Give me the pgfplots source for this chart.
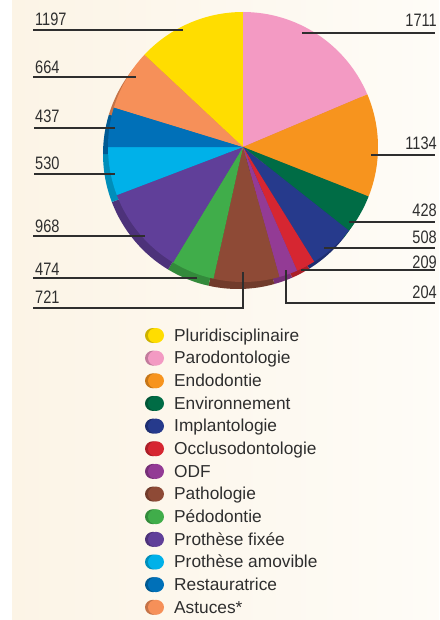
\documentclass[border=0pt]{standalone}
\usepackage{fontspec}
\setmainfont{Liberation Sans}
\newfontfamily\condfont{Liberation Sans}[FakeStretch=0.81]
\usepackage{pgfplots}
\usepackage{pgfplotstable}
\pgfplotsset{compat=1.18}

\definecolor{c0}{HTML}{FFDD00}
\definecolor{c1}{HTML}{F39AC3}
\definecolor{c2}{HTML}{F7941E}
\definecolor{c3}{HTML}{006C45}
\definecolor{c4}{HTML}{263A8C}
\definecolor{c5}{HTML}{D62631}
\definecolor{c6}{HTML}{933B95}
\definecolor{c7}{HTML}{8E4A36}
\definecolor{c8}{HTML}{40AD4A}
\definecolor{c9}{HTML}{603F99}
\definecolor{c10}{HTML}{00B1E9}
\definecolor{c11}{HTML}{0070B8}
\definecolor{c12}{HTML}{F69059}
\definecolor{txt}{HTML}{2E2E2E}
\definecolor{bgl}{RGB}{252,244,230}
\definecolor{bgr}{RGB}{254,252,247}

\pgfplotstableread[col sep=comma]{
name,value
Pluridisciplinaire,1197
Parodontologie,1711
Endodontie,1134
Environnement,428
Implantologie,508
Occlusodontologie,209
ODF,204
Pathologie,721
Pédodontie,474
Prothèse fixée,968
Prothèse amovible,530
Restauratrice,437
Astuces*,664
}\piedata

\begin{document}
% compute angles
\pgfmathsetmacro\tot{0}%
\pgfplotsforeachungrouped \i in {0,...,12}{%
  \pgfplotstablegetelem{\i}{value}\of\piedata
  \pgfmathsetmacro\tot{\tot+\pgfplotsretval}%
}%
\pgfplotstablegetelem{0}{value}\of\piedata
\pgfmathsetmacro\cur{90+360*(\pgfplotsretval/\tot)}%
\pgfplotsforeachungrouped \i in {0,...,12}{%
  \pgfplotstablegetelem{\i}{value}\of\piedata
  \expandafter\xdef\csname vl\i\endcsname{\pgfplotsretval}%
  \pgfmathsetmacro\nxt{\cur-360*(\pgfplotsretval/\tot)}%
  \expandafter\xdef\csname sa\i\endcsname{\cur}%
  \expandafter\xdef\csname sb\i\endcsname{\nxt}%
  \global\let\cur\nxt
  \pgfplotstablegetelem{\i}{name}\of\piedata
  \expandafter\xdef\csname nm\i\endcsname{\pgfplotsretval}%
}%
\begin{tikzpicture}
\begin{axis}[
  scale only axis, width=439pt, height=620pt,
  xmin=0, xmax=439, ymin=0, ymax=620, y dir=reverse,
  hide axis, clip=false]
  % background
  \fill[white] (axis cs:0,0) rectangle (axis cs:12,620);
  \shade[left color=bgl, right color=bgr] (axis cs:12,0) rectangle (axis cs:439,620);
  % pie shadow (3D rim)
  \pgfplotsinvokeforeach{0,...,12}{%
    \edef\temp{\noexpand\fill[c#1!80!black] (axis cs:238,154) -- +(\csname sa#1\endcsname:135pt) arc[start angle=\csname sa#1\endcsname, end angle=\csname sb#1\endcsname, radius=135pt] -- cycle;}%
    \temp
  }
  % pie
  \pgfplotsinvokeforeach{0,...,12}{%
    \edef\temp{\noexpand\fill[c#1] (axis cs:243,147) -- +(\csname sa#1\endcsname:135pt) arc[start angle=\csname sa#1\endcsname, end angle=\csname sb#1\endcsname, radius=135pt] -- cycle;}%
    \temp
  }
  % leader lines
  \begin{scope}[draw=txt, line width=1.1pt]
  \draw (axis cs:33,30) -- (axis cs:183,30);
  \draw (axis cs:33,77) -- (axis cs:136,77);
  \draw (axis cs:34,128) -- (axis cs:115,128);
  \draw (axis cs:34,174) -- (axis cs:115,174);
  \draw (axis cs:33,236) -- (axis cs:145,236);
  \draw (axis cs:33,278) -- (axis cs:197,278);
  \draw (axis cs:33,308) -- (axis cs:243,308) -- (axis cs:243,272);
  \draw (axis cs:302,33) -- (axis cs:435,33);
  \draw (axis cs:371,155) -- (axis cs:435,155);
  \draw (axis cs:349,222) -- (axis cs:435,222);
  \draw (axis cs:324,248) -- (axis cs:435,248);
  \draw (axis cs:301,270) -- (axis cs:435,270);
  \draw (axis cs:286,270) -- (axis cs:286,303) -- (axis cs:435,303);
  \end{scope}
  % value labels
  \begin{scope}[every node/.style={inner sep=0pt, text=txt, font=\condfont\fontsize{18}{20}\selectfont}]
  \node[anchor=base west] at (axis cs:35,26) {\csname vl0\endcsname};
  \node[anchor=base west] at (axis cs:35,74) {\csname vl12\endcsname};
  \node[anchor=base west] at (axis cs:35,123) {\csname vl11\endcsname};
  \node[anchor=base west] at (axis cs:35,170) {\csname vl10\endcsname};
  \node[anchor=base west] at (axis cs:35,232) {\csname vl9\endcsname};
  \node[anchor=base west] at (axis cs:35,275) {\csname vl8\endcsname};
  \node[anchor=base west] at (axis cs:35,303) {\csname vl7\endcsname};
  \node[anchor=base east] at (axis cs:437,27) {\csname vl1\endcsname};
  \node[anchor=base east] at (axis cs:437,150) {\csname vl2\endcsname};
  \node[anchor=base east] at (axis cs:437,217) {\csname vl3\endcsname};
  \node[anchor=base east] at (axis cs:437,243) {\csname vl4\endcsname};
  \node[anchor=base east] at (axis cs:437,268) {\csname vl5\endcsname};
  \node[anchor=base east] at (axis cs:437,298) {\csname vl6\endcsname};
  \end{scope}
  % legend
  \pgfplotsinvokeforeach{0,...,12}{%
    \pgfmathsetmacro\ly{335.5+22.65*#1}%
    \pgfmathsetmacro\lyb{\ly+5.8}%
    \edef\temp{%
      \noexpand\fill[c#1!80!black] (axis cs:153,\ly) ellipse[x radius=8pt, y radius=7.5pt];
      \noexpand\fill[c#1] (axis cs:156,\ly) ellipse[x radius=8pt, y radius=7.5pt];
      \noexpand\node[anchor=base west, inner sep=0pt, text=txt, font=\noexpand\fontsize{17.3}{19}\noexpand\selectfont] at (axis cs:174,\lyb) {\csname nm#1\endcsname};
    }%
    \temp
  }
\end{axis}
\end{tikzpicture}
\end{document}
